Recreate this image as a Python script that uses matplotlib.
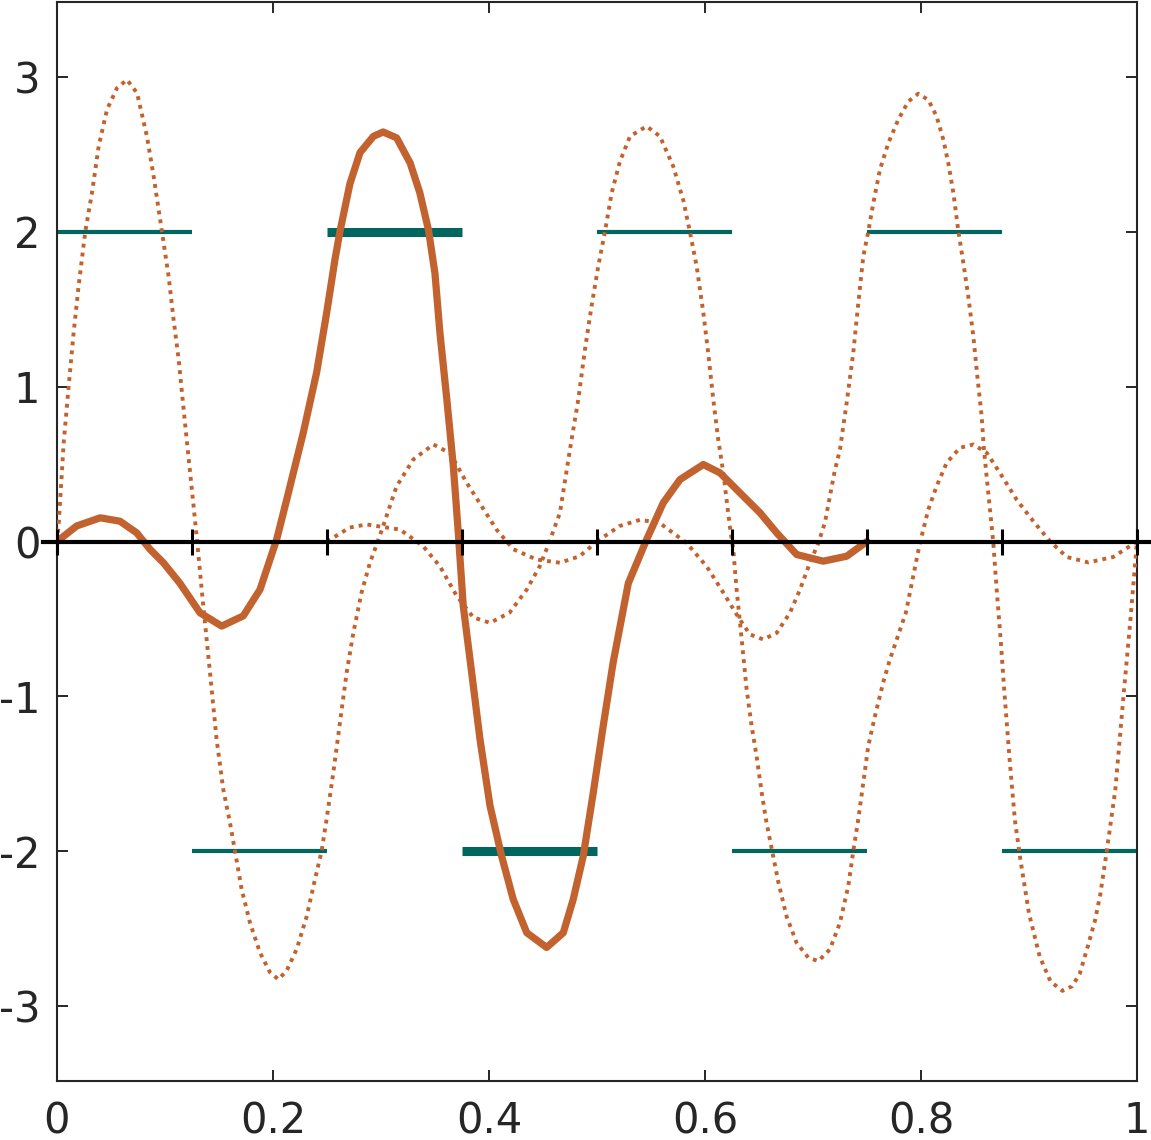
import numpy as np
import matplotlib
matplotlib.use("Agg")
import matplotlib.pyplot as plt

plt.rcParams['axes.unicode_minus'] = False
plt.rcParams['font.family'] = ['DejaVu Sans']

# solid wavelet
solid_x = [0, 0.0182, 0.04, 0.0583, 0.0738, 0.0861, 0.0985, 0.1139, 0.1324, 0.1525,
           0.1725, 0.188, 0.2034, 0.2127, 0.228, 0.2404, 0.2497, 0.2574, 0.262, 0.2713,
           0.2806, 0.293, 0.302, 0.3145, 0.327, 0.336, 0.344, 0.35, 0.3546, 0.361,
           0.367, 0.3716, 0.3762, 0.384, 0.3917, 0.401, 0.4117, 0.4225, 0.435, 0.4534,
           0.4688, 0.478, 0.4873, 0.4966, 0.5058, 0.515, 0.529, 0.546, 0.5614, 0.5769,
           0.5985, 0.6139, 0.6324, 0.651, 0.6664, 0.6849, 0.7095, 0.7312, 0.75]
solid_y = [0, 0.1, 0.153, 0.131, 0.056, -0.05, -0.137, -0.27, -0.46, -0.546,
           -0.48, -0.31, 0.013, 0.27, 0.70, 1.09, 1.475, 1.82, 2.0, 2.31,
           2.51, 2.615, 2.643, 2.605, 2.443, 2.25, 2.01, 1.73, 1.346, 0.916,
           0.486, 0.056, -0.417, -0.847, -1.277, -1.707, -2.03, -2.31, -2.525, -2.62,
           -2.525, -2.31, -2.03, -1.62, -1.19, -0.78, -0.27, 0.013, 0.25, 0.4,
           0.497, 0.443, 0.314, 0.185, 0.056, -0.084, -0.127, -0.095, 0]

# dotted translates
a_x = [0, 0.0015, 0.0062, 0.0108, 0.0154, 0.02, 0.0262, 0.0324, 0.0386, 0.0463, 0.0556,
       0.0648, 0.0741, 0.0833, 0.0895, 0.0972, 0.1034, 0.108, 0.1127, 0.1173, 0.122,
       0.1265, 0.1296, 0.1355, 0.1417, 0.1478, 0.154, 0.1602, 0.1648, 0.171, 0.1787,
       0.188, 0.1972, 0.205, 0.2127, 0.222, 0.2312, 0.2389, 0.245, 0.2497, 0.2559,
       0.262, 0.2682, 0.2744, 0.282, 0.2898, 0.296, 0.302, 0.3145, 0.33, 0.3485, 0.364,
       0.3793, 0.407, 0.4225, 0.444, 0.4657, 0.484, 0.5]
a_y = [0, 0.1, 0.637, 1.0, 1.346, 1.647, 2.0, 2.25, 2.55, 2.787, 2.927,
       2.98, 2.895, 2.615, 2.357, 2.0, 1.71, 1.43, 1.174, 0.85, 0.53,
       0.228, 0.013, -0.417, -0.847, -1.277, -1.6, -1.815, -1.998, -2.245, -2.46,
       -2.654, -2.78, -2.826, -2.77, -2.63, -2.42, -2.18, -2.0, -1.79, -1.49,
       -1.17, -0.847, -0.59, -0.33, -0.137, -0.02, 0.099, 0.357, 0.53, 0.626, 0.57,
       0.38, 0.077, -0.05, -0.116, -0.137, -0.095, 0]

b_x = [0.25, 0.271, 0.2867, 0.3176, 0.339, 0.3546, 0.37, 0.3855, 0.401, 0.419, 0.435,
       0.447, 0.455, 0.4657, 0.475, 0.4827, 0.4889, 0.495, 0.5012, 0.5074, 0.5136,
       0.5213, 0.5306, 0.546, 0.5583, 0.5707, 0.58, 0.586, 0.5923, 0.5985, 0.603,
       0.6077, 0.6123, 0.617, 0.62, 0.6238, 0.6262, 0.6293, 0.634, 0.6386, 0.6432,
       0.6478, 0.6525, 0.657, 0.6623, 0.668, 0.6756, 0.6849, 0.6957, 0.705, 0.7157,
       0.725, 0.7327, 0.7373, 0.742, 0.7466, 0.7512, 0.7574, 0.765, 0.7713, 0.786,
       0.799, 0.8068, 0.8145, 0.8238, 0.8361, 0.8485, 0.861, 0.8731, 0.8886, 0.904,
       0.9194, 0.935, 0.955, 0.978, 1.0]
b_y = [0, 0.09, 0.11, 0.077, -0.03, -0.16, -0.35, -0.49, -0.525, -0.46, -0.31,
       -0.16, -0.02, 0.185, 0.594, 0.916, 1.24, 1.52, 1.776, 2.0, 2.25,
       2.454, 2.615, 2.68, 2.615, 2.42, 2.2, 2.0, 1.776, 1.475, 1.217,
       0.916, 0.658, 0.443, 0.27, 0.056, -0.05, -0.31, -0.632, -0.955, -1.19,
       -1.385, -1.62, -1.815, -2.0, -2.2, -2.42, -2.59, -2.686, -2.708, -2.632,
       -2.46, -2.224, -2.0, -1.79, -1.557, -1.32, -1.127, -0.91, -0.76, -0.46,
       -0.01, 0.206, 0.357, 0.508, 0.605, 0.626, 0.572, 0.443, 0.27, 0.131,
       0.002, -0.1, -0.135, -0.1, 0]

c_x = [0.5, 0.521, 0.5398, 0.558, 0.583, 0.6015, 0.617, 0.631, 0.6417, 0.654, 0.6664,
       0.6787, 0.688, 0.6972, 0.705, 0.711, 0.72, 0.725, 0.7312, 0.7373, 0.742, 0.7466,
       0.7512, 0.7559, 0.762, 0.7698, 0.779, 0.7883, 0.7975, 0.8068, 0.8145, 0.8207,
       0.8253, 0.83, 0.8345, 0.8392, 0.8438, 0.8485, 0.8522, 0.8562, 0.8583, 0.8608,
       0.8639, 0.867, 0.87, 0.874, 0.877, 0.882, 0.887, 0.892, 0.9, 0.91, 0.92, 0.931,
       0.94, 0.947, 0.955, 0.961, 0.966, 0.972, 0.98, 0.9875, 0.994, 1.0]
c_y = [0, 0.1, 0.14, 0.12, -0.01, -0.16, -0.33, -0.49, -0.6, -0.632, -0.59,
       -0.46, -0.31, -0.137, -0.01, 0.12, 0.45, 0.594, 0.895, 1.217, 1.54, 1.84,
       2.0, 2.185, 2.4, 2.572, 2.723, 2.84, 2.89, 2.85, 2.744, 2.594,
       2.443, 2.25, 2.01, 1.8, 1.583, 1.325, 1.066, 0.808, 0.594, 0.42,
       0.206, -0.01, -0.3, -0.65, -0.95, -1.4, -1.8, -2.05, -2.4, -2.68, -2.84, -2.9,
       -2.87, -2.79, -2.6, -2.45, -2.28, -2.0, -1.6, -1.0, -0.5, 0]

# piecewise constant (Haar-like) levels
knots = [0, 0.125, 0.25, 0.375, 0.5, 0.625, 0.75, 0.875, 1.0]
levels = [2, -2, 2, -2, 2, -2, 2, -2]
thick = [2, 3]

orange = '#c1622f'
teal = '#006660'

fig = plt.figure(figsize=(11.51, 11.40), dpi=100)
ax = fig.add_axes([0.0495, 0.052, 0.9383, 0.946])

for k in range(len(levels)):
    lw = 6.5 if k in thick else 3
    ax.plot([knots[k], knots[k + 1]], [levels[k], levels[k]], color=teal, lw=lw,
            solid_capstyle='butt', zorder=2)

for xs, ys in [(a_x, a_y), (b_x, b_y), (c_x, c_y)]:
    ax.plot(xs, ys, color=orange, lw=2.8, linestyle=(0, (1, 1.3)), zorder=3)

ax.plot(solid_x, solid_y, color=orange, lw=5.2, solid_capstyle='round',
        solid_joinstyle='round', zorder=4)

# zero line with knot ticks
ax.plot([-0.013, 1.013], [0, 0], color='black', lw=3, clip_on=False, zorder=5)
ax.plot(knots, np.zeros(len(knots)), linestyle='none', marker='|', markersize=19,
        markeredgewidth=2.2, color='black', clip_on=False, zorder=5)

ax.set_xlim(0, 1)
ax.set_ylim(-3.48, 3.48)
ax.set_xticks([0, 0.2, 0.4, 0.6, 0.8, 1])
ax.set_xticklabels(['0', '0.2', '0.4', '0.6', '0.8', '1'])
ax.set_yticks([-3, -2, -1, 0, 1, 2, 3])
ax.set_yticklabels(['-3', '-2', '-1', '0', '1', '2', '3'])
ax.tick_params(direction='in', length=8, width=1.4, top=True, right=True,
               labelsize=30, colors='#262626')
ax.tick_params(axis='x', pad=14)
ax.tick_params(axis='y', pad=12)
for s in ax.spines.values():
    s.set_linewidth(1.5)
    s.set_color('#262626')

fig.savefig('out.png', dpi=100)
